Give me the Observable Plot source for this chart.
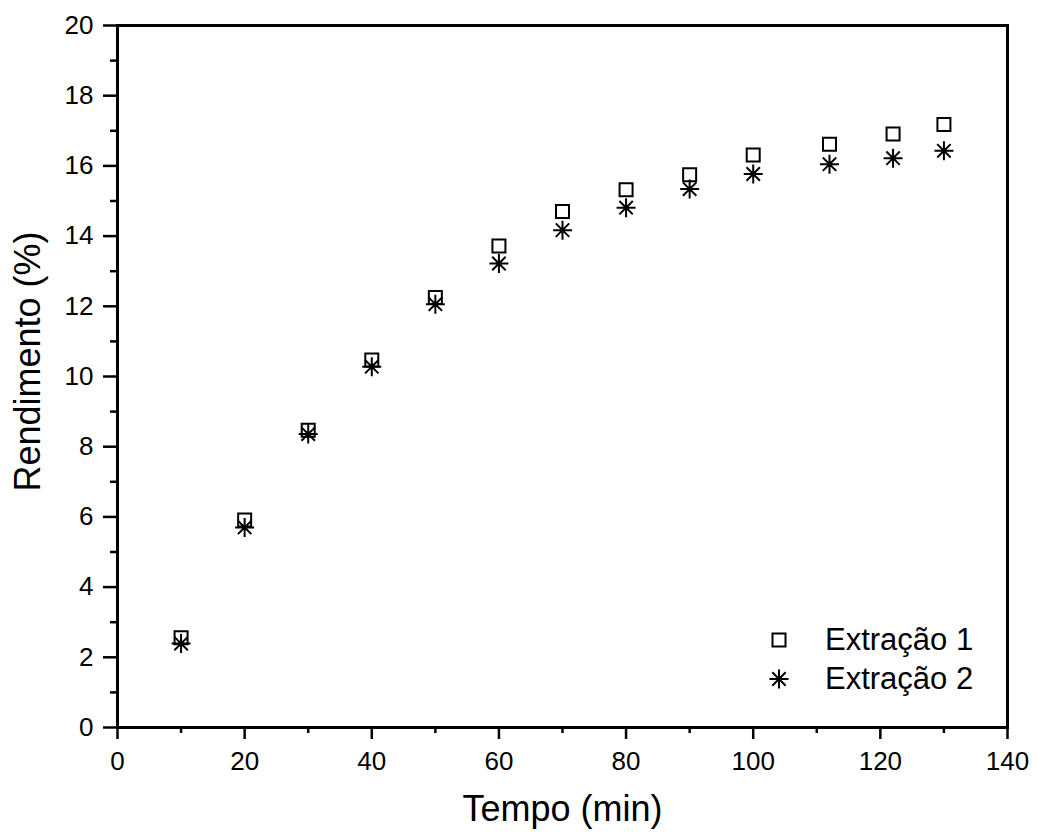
<!DOCTYPE html>
<html>
<head>
<meta charset="utf-8">
<script src="https://cdn.jsdelivr.net/npm/d3@7"></script>
<script src="https://cdn.jsdelivr.net/npm/@observablehq/plot@0.6"></script>
<style>
  html, body { margin: 0; padding: 0; background: #fff; }
  #wrap { position: relative; width: 1038px; height: 836px; font-family: "Liberation Sans", Arial, sans-serif; }
  #legend { position: absolute; left: 764px; top: 620px; font-size: 31px; color: #000; line-height: 39px; }
  #legend .row { display: flex; align-items: center; height: 39px; }
  #legend svg { width: 30px; height: 30px; margin-right: 31px; }
</style>
</head>
<body>
<div id="wrap"></div>
<script>
// Data
const tempo = [10, 20, 30, 40, 50, 60, 70, 80, 90, 100, 112, 122, 130];
const extracao1 = [2.56, 5.91, 8.47, 10.47, 12.25, 13.72, 14.70, 15.32, 15.75, 16.31, 16.62, 16.91, 17.18];
const extracao2 = [2.39, 5.70, 8.36, 10.28, 12.06, 13.22, 14.17, 14.81, 15.34, 15.77, 16.05, 16.22, 16.43];
const seriesNames = ["Extração 1", "Extração 2"];
const xTitle = "Tempo (min)";
const yTitle = "Rendimento (%)";
const xTicks = [0, 20, 40, 60, 80, 100, 120, 140];
const xMinor = [10, 30, 50, 70, 90, 110, 130];
const yTicks = [0, 2, 4, 6, 8, 10, 12, 14, 16, 18, 20];
const yMinor = [1, 3, 5, 7, 9, 11, 13, 15, 17, 19];

const d1 = tempo.map((t, i) => ({t, v: extracao1[i]}));
const d2 = tempo.map((t, i) => ({t, v: extracao2[i]}));

const squareSym = {
  draw(ctx, size) {
    const s = Math.sqrt(size / Math.PI);
    ctx.moveTo(-s, -s); ctx.lineTo(s, -s); ctx.lineTo(s, s); ctx.lineTo(-s, s); ctx.closePath();
  }
};
const starSym = {
  draw(ctx, size) {
    const r = Math.sqrt(size / Math.PI);
    const d = r * Math.SQRT1_2;
    ctx.moveTo(0, -r); ctx.lineTo(0, r);
    ctx.moveTo(-r, 0); ctx.lineTo(r, 0);
    ctx.moveTo(-d, -d); ctx.lineTo(d, d);
    ctx.moveTo(-d, d); ctx.lineTo(d, -d);
  }
};

const font = "Liberation Sans, Arial, sans-serif";

const chart = Plot.plot({
  width: 1038,
  height: 836,
  marginLeft: 117,
  marginRight: 31,
  marginTop: 25,
  marginBottom: 109,
  style: {fontFamily: font, fontSize: "26px", color: "#000", background: "#fff", overflow: "visible"},
  x: {domain: [0, 140]},
  y: {domain: [0, 20]},
  marks: [
    Plot.axisX(xMinor, {tickSize: 6, strokeWidth: 2.5, text: null, label: null}),
    Plot.axisX(xTicks, {tickSize: 12, tickPadding: 12, strokeWidth: 2.5, fontSize: 26, label: null}),
    Plot.axisY(yMinor, {tickSize: 7, strokeWidth: 2.5, text: null, label: null}),
    Plot.axisY(yTicks, {tickSize: 14, tickPadding: 10, strokeWidth: 2.5, fontSize: 26, label: null}),
    Plot.text([xTitle], {frameAnchor: "bottom", textAnchor: "middle", lineAnchor: "middle", dy: 82, fontSize: 36, fill: "#000"}),
    Plot.text([yTitle], {frameAnchor: "left", textAnchor: "middle", lineAnchor: "middle", dx: -89, dy: -15, rotate: -90, fontSize: 36, fill: "#000"}),
    Plot.frame({stroke: "#000", strokeWidth: 3}),
    Plot.dot(d1, {x: "t", y: "v", symbol: squareSym, r: 6.5, stroke: "#000", strokeWidth: 2, fill: "none"}),
    Plot.dot(d2, {x: "t", y: "v", symbol: starSym, r: 9.5, stroke: "#000", strokeWidth: 2, fill: "none"})
  ]
});

const wrap = document.getElementById("wrap");
wrap.appendChild(chart);

// Legend (overlay)
const legend = document.createElement("div");
legend.id = "legend";
const shapes = [
  '<rect x="8.5" y="8.5" width="13" height="13" fill="none" stroke="#000" stroke-width="2"/>',
  '<path d="M15,5.5V24.5M5.5,15H24.5M8.3,8.3L21.7,21.7M8.3,21.7L21.7,8.3" stroke="#000" stroke-width="2" fill="none"/>'
];
seriesNames.forEach((name, i) => {
  const row = document.createElement("div");
  row.className = "row";
  row.innerHTML = `<svg viewBox="0 0 30 30">${shapes[i]}</svg><span>${name}</span>`;
  legend.appendChild(row);
});
wrap.appendChild(legend);
</script>
</body>
</html>
